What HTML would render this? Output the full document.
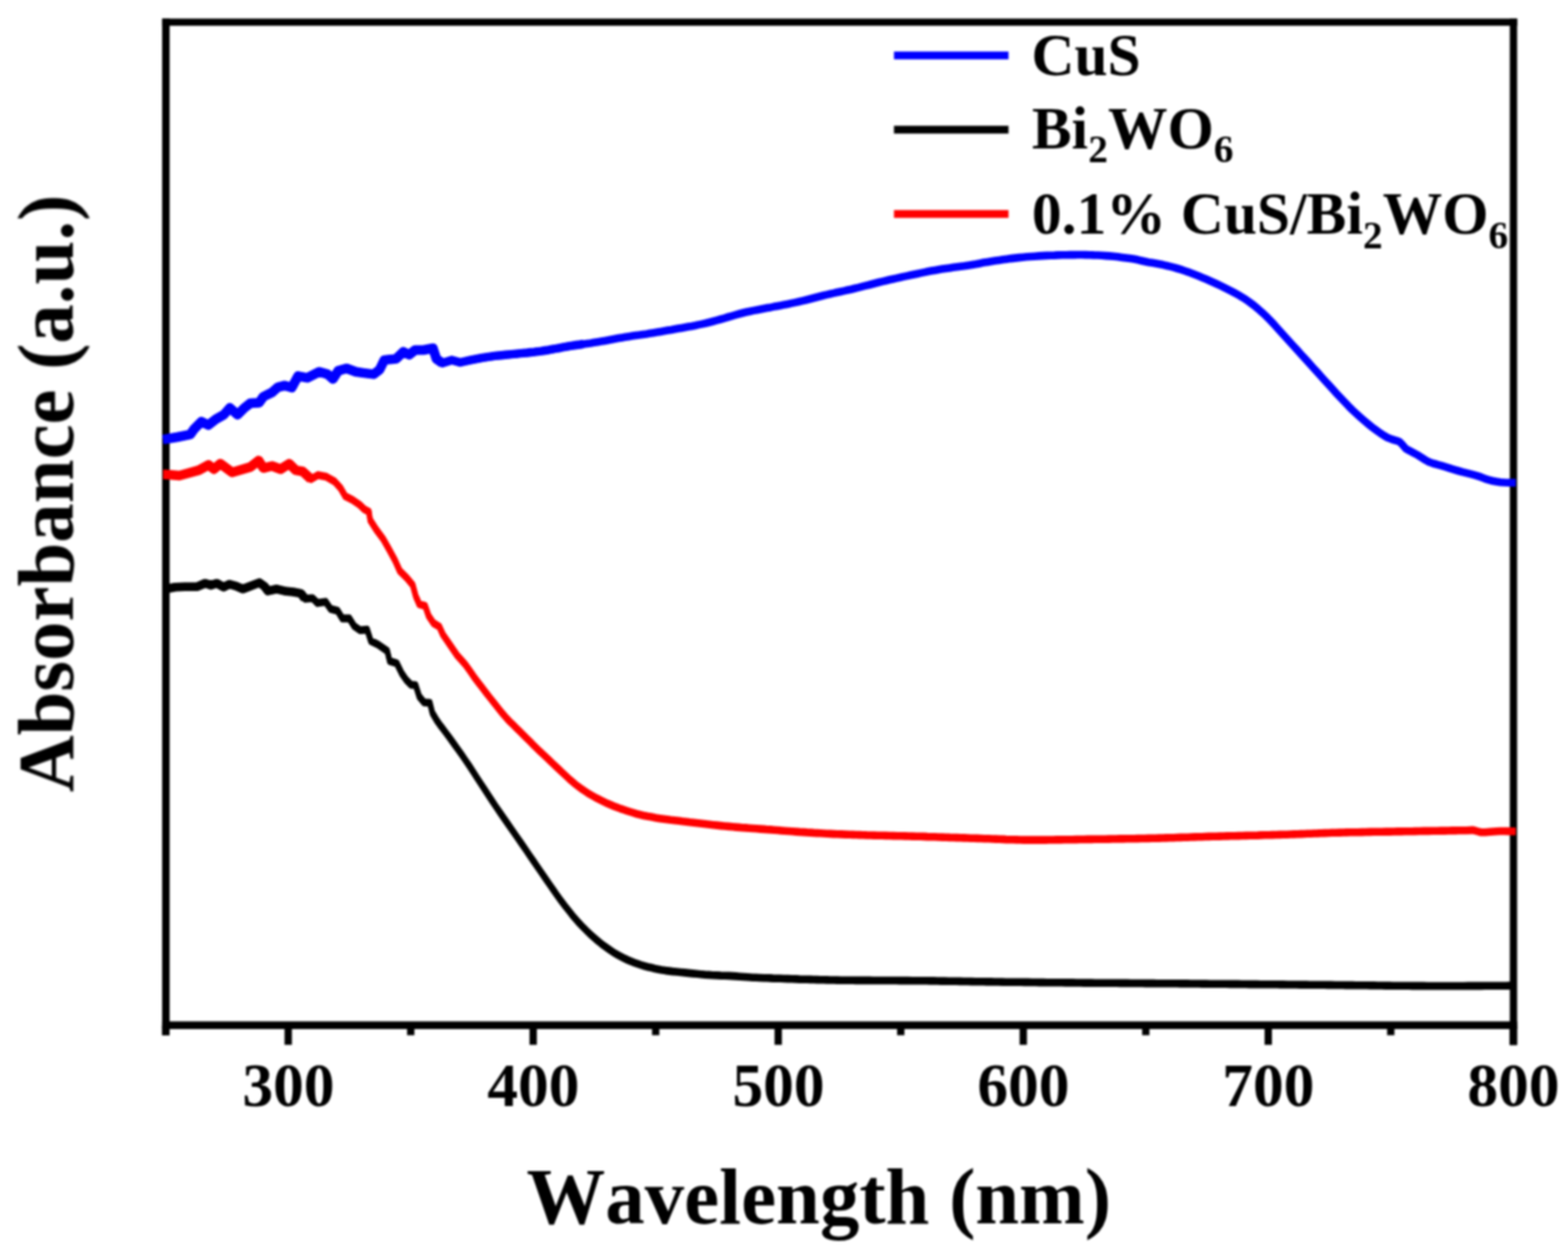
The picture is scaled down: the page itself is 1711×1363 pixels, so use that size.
<!DOCTYPE html>
<html>
<head>
<meta charset="utf-8">
<title>UV-vis absorbance</title>
<style>
html, body { margin: 0; padding: 0; background: #fff; }
body { width: 1711px; height: 1363px; overflow: hidden; }
svg { display: block; }
.soft { filter: blur(1px); }
text { font-family: "Liberation Serif", serif; font-weight: bold; fill: #000; font-kerning: none; }
</style>
</head>
<body>
<svg width="1711" height="1363" viewBox="0 0 1711 1363">
<rect x="0" y="0" width="1711" height="1363" fill="#fff"/>
<g class="soft">
<g fill="#000">
<rect x="176.9" y="20.3" width="8.2" height="1109.4"/>
<rect x="1647.5" y="20.3" width="8" height="1120.2"/>
<rect x="176.9" y="20.3" width="1478.6" height="7.8"/>
<rect x="176.9" y="1114.6" width="1478.6" height="8.4"/>
<rect x="310.5" y="1119" width="8" height="21.2"/>
<rect x="577.8" y="1119" width="8" height="21.2"/>
<rect x="845.2" y="1119" width="8" height="21.2"/>
<rect x="1112.6" y="1119" width="8" height="21.2"/>
<rect x="1379.9" y="1119" width="8" height="21.2"/>
<rect x="1647.3" y="1119" width="8" height="21.2"/>
<rect x="176.8" y="1119" width="8" height="10.7"/>
<rect x="444.2" y="1119" width="8" height="10.7"/>
<rect x="711.5" y="1119" width="8" height="10.7"/>
<rect x="978.9" y="1119" width="8" height="10.7"/>
<rect x="1246.3" y="1119" width="8" height="10.7"/>
<rect x="1513.6" y="1119" width="8" height="10.7"/>
</g>
<g fill="none" stroke-linejoin="round" stroke-linecap="butt">
<g stroke="#0000ff" stroke-width="7.4"><polyline transform="translate(0,-0.6)" points="178.0,479.6 179.4,479.4 193.5,477.0 207.6,474.2 212.3,467.7 219.8,460.1 227.3,463.9 235.7,457.3 244.2,452.6 250.8,445.1 259.2,452.6 266.7,445.1 273.3,440.0 282.7,439.5 287.4,432.9 296.8,428.2 303.3,422.6 310.8,420.7 318.4,423.0 325.2,410.4 335.5,412.3 348.4,405.8 357.4,408.4 363.3,413.6 369.1,404.6 378.1,402.0 388.4,405.8 397.5,407.1 407.8,408.4 414.3,403.3 419.4,392.9 432.3,391.6 440.1,383.9 446.5,387.1 453.0,382.0 462.0,382.0 472.4,380.0 476.2,391.6 482.7,396.2 493.0,392.9 502.1,395.5 513.7,392.9 526.6,390.4 540.0,388.4 547.2,387.7 551.2,387.3 555.6,386.9 560.5,386.4 563.8,386.1 567.4,385.7 571.2,385.3 575.1,385.0 579.1,384.5 583.1,384.1 587.1,383.6 591.0,383.1 594.8,382.5 598.6,381.9 602.4,381.2 606.2,380.5 610.1,379.8 613.9,379.0 617.7,378.3 621.5,377.7 625.3,377.1 629.1,376.5 633.0,376.0 636.8,375.4 640.6,374.9 644.5,374.4 648.3,373.8 652.1,373.2 655.9,372.6 659.7,371.9 663.5,371.2 667.4,370.5 671.2,369.8 675.0,369.1 678.8,368.4 682.6,367.8 686.4,367.2 690.2,366.6 694.0,366.0 697.9,365.5 701.7,364.9 705.5,364.4 709.3,363.8 713.1,363.2 716.9,362.6 720.7,361.9 724.5,361.3 728.4,360.6 732.2,360.0 736.0,359.3 739.8,358.6 743.6,357.9 747.4,357.2 751.1,356.5 754.8,355.9 758.5,355.2 762.2,354.4 766.1,353.6 770.0,352.8 774.1,351.8 777.9,350.8 781.9,349.7 786.0,348.5 790.2,347.3 794.4,346.0 798.6,344.8 802.7,343.6 806.7,342.5 810.5,341.5 814.6,340.5 818.5,339.7 822.4,338.9 826.1,338.2 829.8,337.5 833.5,336.8 837.2,336.1 841.0,335.4 844.8,334.6 848.6,333.9 852.4,333.2 856.2,332.4 860.1,331.7 863.9,330.9 867.7,330.1 871.5,329.3 875.3,328.4 879.1,327.5 883.0,326.5 886.8,325.5 890.6,324.5 894.5,323.5 898.3,322.5 902.1,321.6 905.9,320.7 909.7,319.9 913.5,319.0 917.4,318.2 921.2,317.4 925.0,316.5 928.8,315.7 932.6,314.8 936.4,313.9 940.2,312.9 944.0,311.9 947.9,311.0 951.7,310.0 955.5,309.0 959.3,308.0 963.1,307.1 966.9,306.2 970.7,305.3 974.5,304.5 978.4,303.6 982.2,302.8 986.0,301.9 989.8,301.1 993.6,300.3 997.4,299.5 1001.2,298.7 1005.0,297.9 1008.8,297.1 1012.6,296.3 1016.4,295.6 1020.2,294.9 1024.1,294.2 1028.0,293.6 1032.1,293.0 1036.2,292.4 1040.2,291.8 1044.3,291.3 1048.3,290.8 1052.1,290.3 1055.8,289.7 1060.4,288.9 1064.8,288.2 1069.1,287.4 1073.2,286.6 1077.4,285.9 1081.6,285.2 1085.9,284.5 1090.2,283.9 1094.5,283.3 1098.9,282.7 1103.2,282.1 1107.5,281.6 1111.8,281.1 1116.1,280.7 1120.4,280.3 1124.7,280.0 1129.0,279.7 1133.3,279.4 1137.6,279.1 1141.9,278.9 1146.2,278.7 1150.5,278.6 1154.8,278.4 1159.1,278.3 1163.4,278.2 1167.7,278.1 1172.0,278.1 1176.3,278.0 1180.6,278.0 1184.9,278.1 1189.2,278.2 1193.5,278.4 1197.8,278.5 1202.2,278.8 1206.5,279.1 1210.8,279.4 1215.2,279.8 1219.9,280.3 1224.5,280.9 1228.9,281.5 1233.0,282.1 1236.6,282.6 1241.8,283.6 1245.5,284.5 1250.0,285.5 1253.5,286.2 1257.3,286.8 1261.4,287.5 1265.4,288.3 1269.4,289.1 1273.3,290.0 1277.1,290.9 1281.0,291.9 1284.8,293.0 1288.7,294.2 1292.6,295.5 1296.5,296.8 1300.3,298.3 1304.2,299.8 1308.1,301.3 1312.0,302.9 1315.9,304.5 1319.7,306.2 1323.6,307.9 1327.5,309.7 1331.5,311.6 1335.5,313.6 1339.5,315.6 1343.4,317.6 1346.8,319.4 1351.6,322.0 1355.6,324.4 1359.7,327.0 1364.0,330.1 1368.4,333.4 1372.7,337.0 1377.0,340.8 1381.3,344.8 1385.6,349.1 1389.9,353.7 1394.2,358.5 1398.5,363.3 1402.8,368.0 1407.1,372.8 1411.4,377.5 1415.7,382.2 1420.0,387.0 1424.3,391.7 1428.6,396.4 1432.9,401.2 1437.2,405.9 1441.5,410.7 1445.8,415.5 1450.1,420.2 1454.4,424.9 1458.6,429.6 1462.9,434.2 1467.2,438.7 1471.5,443.2 1475.8,447.5 1480.1,451.5 1484.4,455.4 1488.7,459.1 1493.0,462.7 1497.3,466.2 1501.6,469.4 1505.9,472.5 1510.3,475.4 1514.6,477.8 1519.1,479.5 1523.7,480.8 1527.5,482.3 1530.7,485.7 1533.9,489.4 1537.7,491.7 1542.3,494.1 1546.8,496.5 1551.1,499.2 1555.4,502.0 1559.7,504.3 1563.8,505.8 1567.9,506.8 1572.7,508.1 1576.2,509.2 1580.0,510.3 1584.0,511.6 1588.0,512.8 1592.0,514.0 1596.0,515.1 1600.1,516.1 1604.1,517.1 1607.9,518.1 1611.4,519.1 1616.2,520.7 1620.2,522.3 1624.3,523.6 1628.5,524.7 1632.6,525.5 1637.2,526.2 1641.5,526.5 1646.4,526.7 1650.9,526.8 1654.0,526.9"/><polyline transform="translate(0,0.6)" points="178.0,479.6 179.4,479.4 193.5,477.0 207.6,474.2 212.3,467.7 219.8,460.1 227.3,463.9 235.7,457.3 244.2,452.6 250.8,445.1 259.2,452.6 266.7,445.1 273.3,440.0 282.7,439.5 287.4,432.9 296.8,428.2 303.3,422.6 310.8,420.7 318.4,423.0 325.2,410.4 335.5,412.3 348.4,405.8 357.4,408.4 363.3,413.6 369.1,404.6 378.1,402.0 388.4,405.8 397.5,407.1 407.8,408.4 414.3,403.3 419.4,392.9 432.3,391.6 440.1,383.9 446.5,387.1 453.0,382.0 462.0,382.0 472.4,380.0 476.2,391.6 482.7,396.2 493.0,392.9 502.1,395.5 513.7,392.9 526.6,390.4 540.0,388.4 547.2,387.7 551.2,387.3 555.6,386.9 560.5,386.4 563.8,386.1 567.4,385.7 571.2,385.3 575.1,385.0 579.1,384.5 583.1,384.1 587.1,383.6 591.0,383.1 594.8,382.5 598.6,381.9 602.4,381.2 606.2,380.5 610.1,379.8 613.9,379.0 617.7,378.3 621.5,377.7 625.3,377.1 629.1,376.5 633.0,376.0 636.8,375.4 640.6,374.9 644.5,374.4 648.3,373.8 652.1,373.2 655.9,372.6 659.7,371.9 663.5,371.2 667.4,370.5 671.2,369.8 675.0,369.1 678.8,368.4 682.6,367.8 686.4,367.2 690.2,366.6 694.0,366.0 697.9,365.5 701.7,364.9 705.5,364.4 709.3,363.8 713.1,363.2 716.9,362.6 720.7,361.9 724.5,361.3 728.4,360.6 732.2,360.0 736.0,359.3 739.8,358.6 743.6,357.9 747.4,357.2 751.1,356.5 754.8,355.9 758.5,355.2 762.2,354.4 766.1,353.6 770.0,352.8 774.1,351.8 777.9,350.8 781.9,349.7 786.0,348.5 790.2,347.3 794.4,346.0 798.6,344.8 802.7,343.6 806.7,342.5 810.5,341.5 814.6,340.5 818.5,339.7 822.4,338.9 826.1,338.2 829.8,337.5 833.5,336.8 837.2,336.1 841.0,335.4 844.8,334.6 848.6,333.9 852.4,333.2 856.2,332.4 860.1,331.7 863.9,330.9 867.7,330.1 871.5,329.3 875.3,328.4 879.1,327.5 883.0,326.5 886.8,325.5 890.6,324.5 894.5,323.5 898.3,322.5 902.1,321.6 905.9,320.7 909.7,319.9 913.5,319.0 917.4,318.2 921.2,317.4 925.0,316.5 928.8,315.7 932.6,314.8 936.4,313.9 940.2,312.9 944.0,311.9 947.9,311.0 951.7,310.0 955.5,309.0 959.3,308.0 963.1,307.1 966.9,306.2 970.7,305.3 974.5,304.5 978.4,303.6 982.2,302.8 986.0,301.9 989.8,301.1 993.6,300.3 997.4,299.5 1001.2,298.7 1005.0,297.9 1008.8,297.1 1012.6,296.3 1016.4,295.6 1020.2,294.9 1024.1,294.2 1028.0,293.6 1032.1,293.0 1036.2,292.4 1040.2,291.8 1044.3,291.3 1048.3,290.8 1052.1,290.3 1055.8,289.7 1060.4,288.9 1064.8,288.2 1069.1,287.4 1073.2,286.6 1077.4,285.9 1081.6,285.2 1085.9,284.5 1090.2,283.9 1094.5,283.3 1098.9,282.7 1103.2,282.1 1107.5,281.6 1111.8,281.1 1116.1,280.7 1120.4,280.3 1124.7,280.0 1129.0,279.7 1133.3,279.4 1137.6,279.1 1141.9,278.9 1146.2,278.7 1150.5,278.6 1154.8,278.4 1159.1,278.3 1163.4,278.2 1167.7,278.1 1172.0,278.1 1176.3,278.0 1180.6,278.0 1184.9,278.1 1189.2,278.2 1193.5,278.4 1197.8,278.5 1202.2,278.8 1206.5,279.1 1210.8,279.4 1215.2,279.8 1219.9,280.3 1224.5,280.9 1228.9,281.5 1233.0,282.1 1236.6,282.6 1241.8,283.6 1245.5,284.5 1250.0,285.5 1253.5,286.2 1257.3,286.8 1261.4,287.5 1265.4,288.3 1269.4,289.1 1273.3,290.0 1277.1,290.9 1281.0,291.9 1284.8,293.0 1288.7,294.2 1292.6,295.5 1296.5,296.8 1300.3,298.3 1304.2,299.8 1308.1,301.3 1312.0,302.9 1315.9,304.5 1319.7,306.2 1323.6,307.9 1327.5,309.7 1331.5,311.6 1335.5,313.6 1339.5,315.6 1343.4,317.6 1346.8,319.4 1351.6,322.0 1355.6,324.4 1359.7,327.0 1364.0,330.1 1368.4,333.4 1372.7,337.0 1377.0,340.8 1381.3,344.8 1385.6,349.1 1389.9,353.7 1394.2,358.5 1398.5,363.3 1402.8,368.0 1407.1,372.8 1411.4,377.5 1415.7,382.2 1420.0,387.0 1424.3,391.7 1428.6,396.4 1432.9,401.2 1437.2,405.9 1441.5,410.7 1445.8,415.5 1450.1,420.2 1454.4,424.9 1458.6,429.6 1462.9,434.2 1467.2,438.7 1471.5,443.2 1475.8,447.5 1480.1,451.5 1484.4,455.4 1488.7,459.1 1493.0,462.7 1497.3,466.2 1501.6,469.4 1505.9,472.5 1510.3,475.4 1514.6,477.8 1519.1,479.5 1523.7,480.8 1527.5,482.3 1530.7,485.7 1533.9,489.4 1537.7,491.7 1542.3,494.1 1546.8,496.5 1551.1,499.2 1555.4,502.0 1559.7,504.3 1563.8,505.8 1567.9,506.8 1572.7,508.1 1576.2,509.2 1580.0,510.3 1584.0,511.6 1588.0,512.8 1592.0,514.0 1596.0,515.1 1600.1,516.1 1604.1,517.1 1607.9,518.1 1611.4,519.1 1616.2,520.7 1620.2,522.3 1624.3,523.6 1628.5,524.7 1632.6,525.5 1637.2,526.2 1641.5,526.5 1646.4,526.7 1650.9,526.8 1654.0,526.9"/>
<polyline stroke-width="9.4" points="178.0,479.6 179.4,479.4 193.5,477.0 207.6,474.2 212.3,467.7 219.8,460.1 227.3,463.9 235.7,457.3 244.2,452.6 250.8,445.1 259.2,452.6 266.7,445.1 273.3,440.0 282.7,439.5 287.4,432.9 296.8,428.2 303.3,422.6 310.8,420.7 318.4,423.0 325.2,410.4 335.5,412.3 348.4,405.8 357.4,408.4 363.3,413.6 369.1,404.6 378.1,402.0 388.4,405.8 397.5,407.1 407.8,408.4 414.3,403.3 419.4,392.9 432.3,391.6 440.1,383.9 446.5,387.1 453.0,382.0 462.0,382.0 472.4,380.0 476.2,391.6 482.7,396.2 493.0,392.9 502.1,395.5 513.7,392.9 526.6,390.4 540.0,388.4 547.2,387.7 551.2,387.3 555.6,386.9 560.5,386.4 563.8,386.1 567.4,385.7 571.2,385.3 575.1,385.0 579.1,384.5 583.1,384.1 587.1,383.6 591.0,383.1 594.8,382.5 598.6,381.9 602.4,381.2 606.2,380.5 610.1,379.8 613.9,379.0 617.7,378.3 621.5,377.7 625.3,377.1 629.1,376.5 633.0,376.0 636.8,375.4"/>
<polyline stroke-width="10.5" points="178.0,479.6 179.4,479.4 193.5,477.0 207.6,474.2 212.3,467.7 219.8,460.1 227.3,463.9 235.7,457.3 244.2,452.6 250.8,445.1 259.2,452.6 266.7,445.1 273.3,440.0 282.7,439.5 287.4,432.9 296.8,428.2 303.3,422.6 310.8,420.7 318.4,423.0 325.2,410.4 335.5,412.3 348.4,405.8 357.4,408.4 363.3,413.6 369.1,404.6 378.1,402.0 388.4,405.8 397.5,407.1 407.8,408.4 414.3,403.3 419.4,392.9 432.3,391.6 440.1,383.9 446.5,387.1 453.0,382.0 462.0,382.0 472.4,380.0 476.2,391.6 482.7,396.2"/></g>
<g stroke="#ff0000" stroke-width="5.6"><polyline points="178.0,517.8 180.6,517.8 195.8,519.0 217.0,513.1 227.5,507.3 233.4,512.0 240.4,506.1 253.3,515.5 273.3,509.6 282.2,502.6 287.4,510.8 296.8,508.5 306.2,512.0 315.5,506.1 322.6,513.1 330.3,514.5 339.4,522.9 347.1,518.4 356.2,520.3 365.2,525.5 371.6,532.6 376.8,541.6 384.6,545.5 392.3,550.7 397.5,555.8 402.6,558.4 403.9,567.5 410.4,577.8 418.1,588.1 424.6,599.7 431.0,611.4 436.2,623.0 444.0,630.7 450.4,638.5 453.6,650.3 457.5,659.4 464.0,661.3 467.8,672.3 473.0,680.0 479.4,683.9 483.3,692.5 491.1,703.8 498.8,715.1 503.3,720.1 507.9,725.3 512.4,731.6 516.9,738.2 521.4,744.2 525.9,750.0 530.4,756.0 535.0,761.9 539.5,767.6 544.0,773.2 548.6,778.9 553.0,784.0 556.3,787.5 560.0,791.0 563.4,794.4 567.3,798.2 571.5,802.4 574.8,805.8 578.4,809.3 582.0,813.0 585.6,816.5 589.1,819.9 592.7,823.2 596.2,826.6 599.7,829.9 603.2,833.2 606.8,836.6 610.3,839.9 613.8,843.2 617.3,846.5 620.8,849.8 624.4,852.9 627.9,855.9 631.4,858.6 635.0,861.2 638.5,863.5 642.0,865.8 645.5,867.9 649.1,869.9 652.6,871.7 656.1,873.5 659.6,875.2 663.1,876.9 666.6,878.4 670.1,879.9 673.6,881.2 677.1,882.5 680.7,883.7 684.2,884.8 687.5,885.9 690.8,886.9 694.2,888.0 698.3,889.0 702.2,889.9 706.5,890.8 711.0,891.6 715.6,892.5 720.0,893.2 724.1,893.8 728.0,894.3 731.9,894.8 736.1,895.2 740.8,895.8 744.5,896.3 748.5,896.7 752.8,897.3 757.1,897.8 761.5,898.3 765.8,898.8 770.1,899.3 774.3,899.8 778.3,900.2 782.4,900.6 786.6,901.1 790.7,901.5 795.0,901.9 799.5,902.3 803.0,902.6 806.6,902.9 810.1,903.2 813.7,903.4 817.4,903.7 821.3,904.0 825.3,904.3 829.4,904.6 833.8,904.9 837.3,905.2 840.9,905.4 844.6,905.7 848.4,906.0 852.4,906.4 856.4,906.7 860.4,907.0 864.5,907.3 868.5,907.6 872.6,907.9 876.6,908.1 880.5,908.4 884.3,908.6 888.0,908.9 891.6,909.1 895.1,909.3 898.7,909.5 902.3,909.7 906.0,909.9 909.8,910.1 913.8,910.3 918.0,910.4 922.5,910.6 927.3,910.8 930.7,910.9 934.3,911.0 937.9,911.1 941.8,911.2 945.7,911.4 949.7,911.5 953.8,911.6 958.0,911.7 962.2,911.8 966.5,911.9 970.7,912.0 975.0,912.1 979.3,912.2 983.5,912.3 987.7,912.4 991.9,912.5 996.0,912.6 1000.0,912.7 1004.0,912.8 1008.0,912.9 1012.0,913.1 1016.1,913.2 1020.2,913.3 1024.2,913.5 1028.3,913.6 1032.3,913.7 1036.3,913.9 1040.3,914.0 1044.2,914.1 1048.1,914.3 1052.0,914.4 1055.7,914.5 1059.4,914.7 1063.0,914.8 1066.6,914.9 1070.0,915.0 1074.5,915.2 1078.8,915.3 1082.9,915.5 1086.8,915.6 1090.6,915.8 1094.3,915.9 1097.9,916.1 1101.6,916.2 1105.3,916.3 1109.1,916.4 1113.1,916.5 1117.2,916.6 1121.6,916.6 1125.3,916.6 1129.1,916.6 1132.9,916.6 1136.9,916.6 1140.9,916.6 1144.9,916.5 1149.0,916.5 1153.1,916.4 1157.3,916.4 1161.5,916.3 1165.8,916.2 1170.0,916.2 1174.3,916.1 1178.5,916.0 1182.8,916.0 1187.0,915.9 1190.8,915.9 1194.6,915.8 1198.4,915.8 1202.2,915.7 1206.1,915.7 1210.0,915.6 1213.9,915.5 1217.8,915.5 1221.7,915.4 1225.6,915.4 1229.6,915.3 1233.5,915.3 1237.4,915.2 1241.4,915.1 1245.3,915.0 1249.2,915.0 1253.1,914.9 1257.0,914.8 1260.9,914.7 1264.8,914.6 1268.6,914.5 1272.5,914.4 1276.4,914.3 1280.2,914.2 1284.1,914.0 1287.9,913.9 1291.8,913.8 1295.7,913.7 1299.6,913.5 1303.4,913.4 1307.3,913.3 1311.2,913.2 1315.2,913.0 1319.1,912.9 1323.0,912.8 1327.0,912.7 1331.0,912.6 1335.0,912.5 1339.1,912.4 1343.2,912.3 1347.4,912.2 1351.5,912.1 1355.7,912.0 1359.8,911.9 1364.0,911.8 1368.1,911.7 1372.3,911.6 1376.4,911.4 1380.4,911.3 1384.5,911.2 1388.4,911.1 1392.4,911.0 1396.2,910.9 1400.0,910.8 1404.1,910.7 1408.1,910.5 1412.0,910.4 1415.8,910.3 1419.5,910.1 1423.2,910.0 1426.8,909.8 1430.4,909.7 1434.1,909.5 1437.8,909.4 1441.5,909.2 1445.4,909.1 1449.3,909.0 1453.4,908.8 1457.6,908.7 1462.0,908.6 1465.7,908.5 1469.5,908.4 1473.5,908.3 1477.5,908.2 1481.7,908.2 1485.9,908.1 1490.3,908.0 1494.6,907.9 1499.0,907.8 1503.4,907.8 1507.8,907.7 1512.1,907.6 1516.4,907.6 1520.7,907.5 1524.9,907.4 1528.9,907.4 1532.9,907.3 1536.8,907.2 1540.5,907.2 1544.0,907.1 1548.9,907.0 1553.8,906.9 1558.6,906.9 1563.3,906.8 1567.9,906.7 1572.3,906.6 1576.6,906.6 1580.7,906.5 1584.6,906.4 1588.3,906.4 1591.6,906.3 1594.7,906.3 1597.5,906.2 1600.0,906.2 1607.0,905.9 1608.0,906.0 1611.9,907.1 1616.0,908.2 1620.8,908.2 1626.0,907.8 1629.4,907.5 1632.9,907.2 1637.0,907.0 1641.2,907.0 1646.2,907.1 1650.8,907.2 1654.0,907.3"/><polyline transform="translate(0,-1.5)" points="178.0,517.8 180.6,517.8 195.8,519.0 217.0,513.1 227.5,507.3 233.4,512.0 240.4,506.1 253.3,515.5 273.3,509.6 282.2,502.6 287.4,510.8 296.8,508.5 306.2,512.0 315.5,506.1 322.6,513.1 330.3,514.5 339.4,522.9 347.1,518.4 356.2,520.3 365.2,525.5 371.6,532.6 376.8,541.6 384.6,545.5 392.3,550.7 397.5,555.8 402.6,558.4 403.9,567.5 410.4,577.8 418.1,588.1 424.6,599.7 431.0,611.4 436.2,623.0 444.0,630.7 450.4,638.5 453.6,650.3 457.5,659.4 464.0,661.3 467.8,672.3 473.0,680.0 479.4,683.9 483.3,692.5 491.1,703.8 498.8,715.1 503.3,720.1 507.9,725.3 512.4,731.6 516.9,738.2 521.4,744.2 525.9,750.0 530.4,756.0 535.0,761.9 539.5,767.6 544.0,773.2 548.6,778.9 553.0,784.0 556.3,787.5 560.0,791.0 563.4,794.4 567.3,798.2 571.5,802.4 574.8,805.8 578.4,809.3 582.0,813.0 585.6,816.5 589.1,819.9 592.7,823.2 596.2,826.6 599.7,829.9 603.2,833.2 606.8,836.6 610.3,839.9 613.8,843.2 617.3,846.5 620.8,849.8 624.4,852.9 627.9,855.9 631.4,858.6 635.0,861.2 638.5,863.5 642.0,865.8 645.5,867.9 649.1,869.9 652.6,871.7 656.1,873.5 659.6,875.2 663.1,876.9 666.6,878.4 670.1,879.9 673.6,881.2 677.1,882.5 680.7,883.7 684.2,884.8 687.5,885.9 690.8,886.9 694.2,888.0 698.3,889.0 702.2,889.9 706.5,890.8 711.0,891.6 715.6,892.5 720.0,893.2 724.1,893.8 728.0,894.3 731.9,894.8 736.1,895.2 740.8,895.8 744.5,896.3 748.5,896.7 752.8,897.3 757.1,897.8 761.5,898.3 765.8,898.8 770.1,899.3 774.3,899.8 778.3,900.2 782.4,900.6 786.6,901.1 790.7,901.5 795.0,901.9 799.5,902.3 803.0,902.6 806.6,902.9 810.1,903.2 813.7,903.4 817.4,903.7 821.3,904.0 825.3,904.3 829.4,904.6 833.8,904.9 837.3,905.2 840.9,905.4 844.6,905.7 848.4,906.0 852.4,906.4 856.4,906.7 860.4,907.0 864.5,907.3 868.5,907.6 872.6,907.9 876.6,908.1 880.5,908.4 884.3,908.6 888.0,908.9 891.6,909.1 895.1,909.3 898.7,909.5 902.3,909.7 906.0,909.9 909.8,910.1 913.8,910.3 918.0,910.4 922.5,910.6 927.3,910.8 930.7,910.9 934.3,911.0 937.9,911.1 941.8,911.2 945.7,911.4 949.7,911.5 953.8,911.6 958.0,911.7 962.2,911.8 966.5,911.9 970.7,912.0 975.0,912.1 979.3,912.2 983.5,912.3 987.7,912.4 991.9,912.5 996.0,912.6 1000.0,912.7 1004.0,912.8 1008.0,912.9 1012.0,913.1 1016.1,913.2 1020.2,913.3 1024.2,913.5 1028.3,913.6 1032.3,913.7 1036.3,913.9 1040.3,914.0 1044.2,914.1 1048.1,914.3 1052.0,914.4 1055.7,914.5 1059.4,914.7 1063.0,914.8 1066.6,914.9 1070.0,915.0 1074.5,915.2 1078.8,915.3 1082.9,915.5 1086.8,915.6 1090.6,915.8 1094.3,915.9 1097.9,916.1 1101.6,916.2 1105.3,916.3 1109.1,916.4 1113.1,916.5 1117.2,916.6 1121.6,916.6 1125.3,916.6 1129.1,916.6 1132.9,916.6 1136.9,916.6 1140.9,916.6 1144.9,916.5 1149.0,916.5 1153.1,916.4 1157.3,916.4 1161.5,916.3 1165.8,916.2 1170.0,916.2 1174.3,916.1 1178.5,916.0 1182.8,916.0 1187.0,915.9 1190.8,915.9 1194.6,915.8 1198.4,915.8 1202.2,915.7 1206.1,915.7 1210.0,915.6 1213.9,915.5 1217.8,915.5 1221.7,915.4 1225.6,915.4 1229.6,915.3 1233.5,915.3 1237.4,915.2 1241.4,915.1 1245.3,915.0 1249.2,915.0 1253.1,914.9 1257.0,914.8 1260.9,914.7 1264.8,914.6 1268.6,914.5 1272.5,914.4 1276.4,914.3 1280.2,914.2 1284.1,914.0 1287.9,913.9 1291.8,913.8 1295.7,913.7 1299.6,913.5 1303.4,913.4 1307.3,913.3 1311.2,913.2 1315.2,913.0 1319.1,912.9 1323.0,912.8 1327.0,912.7 1331.0,912.6 1335.0,912.5 1339.1,912.4 1343.2,912.3 1347.4,912.2 1351.5,912.1 1355.7,912.0 1359.8,911.9 1364.0,911.8 1368.1,911.7 1372.3,911.6 1376.4,911.4 1380.4,911.3 1384.5,911.2 1388.4,911.1 1392.4,911.0 1396.2,910.9 1400.0,910.8 1404.1,910.7 1408.1,910.5 1412.0,910.4 1415.8,910.3 1419.5,910.1 1423.2,910.0 1426.8,909.8 1430.4,909.7 1434.1,909.5 1437.8,909.4 1441.5,909.2 1445.4,909.1 1449.3,909.0 1453.4,908.8 1457.6,908.7 1462.0,908.6 1465.7,908.5 1469.5,908.4 1473.5,908.3 1477.5,908.2 1481.7,908.2 1485.9,908.1 1490.3,908.0 1494.6,907.9 1499.0,907.8 1503.4,907.8 1507.8,907.7 1512.1,907.6 1516.4,907.6 1520.7,907.5 1524.9,907.4 1528.9,907.4 1532.9,907.3 1536.8,907.2 1540.5,907.2 1544.0,907.1 1548.9,907.0 1553.8,906.9 1558.6,906.9 1563.3,906.8 1567.9,906.7 1572.3,906.6 1576.6,906.6 1580.7,906.5 1584.6,906.4 1588.3,906.4 1591.6,906.3 1594.7,906.3 1597.5,906.2 1600.0,906.2 1607.0,905.9 1608.0,906.0 1611.9,907.1 1616.0,908.2 1620.8,908.2 1626.0,907.8 1629.4,907.5 1632.9,907.2 1637.0,907.0 1641.2,907.0 1646.2,907.1 1650.8,907.2 1654.0,907.3"/><polyline transform="translate(0,1.5)" points="178.0,517.8 180.6,517.8 195.8,519.0 217.0,513.1 227.5,507.3 233.4,512.0 240.4,506.1 253.3,515.5 273.3,509.6 282.2,502.6 287.4,510.8 296.8,508.5 306.2,512.0 315.5,506.1 322.6,513.1 330.3,514.5 339.4,522.9 347.1,518.4 356.2,520.3 365.2,525.5 371.6,532.6 376.8,541.6 384.6,545.5 392.3,550.7 397.5,555.8 402.6,558.4 403.9,567.5 410.4,577.8 418.1,588.1 424.6,599.7 431.0,611.4 436.2,623.0 444.0,630.7 450.4,638.5 453.6,650.3 457.5,659.4 464.0,661.3 467.8,672.3 473.0,680.0 479.4,683.9 483.3,692.5 491.1,703.8 498.8,715.1 503.3,720.1 507.9,725.3 512.4,731.6 516.9,738.2 521.4,744.2 525.9,750.0 530.4,756.0 535.0,761.9 539.5,767.6 544.0,773.2 548.6,778.9 553.0,784.0 556.3,787.5 560.0,791.0 563.4,794.4 567.3,798.2 571.5,802.4 574.8,805.8 578.4,809.3 582.0,813.0 585.6,816.5 589.1,819.9 592.7,823.2 596.2,826.6 599.7,829.9 603.2,833.2 606.8,836.6 610.3,839.9 613.8,843.2 617.3,846.5 620.8,849.8 624.4,852.9 627.9,855.9 631.4,858.6 635.0,861.2 638.5,863.5 642.0,865.8 645.5,867.9 649.1,869.9 652.6,871.7 656.1,873.5 659.6,875.2 663.1,876.9 666.6,878.4 670.1,879.9 673.6,881.2 677.1,882.5 680.7,883.7 684.2,884.8 687.5,885.9 690.8,886.9 694.2,888.0 698.3,889.0 702.2,889.9 706.5,890.8 711.0,891.6 715.6,892.5 720.0,893.2 724.1,893.8 728.0,894.3 731.9,894.8 736.1,895.2 740.8,895.8 744.5,896.3 748.5,896.7 752.8,897.3 757.1,897.8 761.5,898.3 765.8,898.8 770.1,899.3 774.3,899.8 778.3,900.2 782.4,900.6 786.6,901.1 790.7,901.5 795.0,901.9 799.5,902.3 803.0,902.6 806.6,902.9 810.1,903.2 813.7,903.4 817.4,903.7 821.3,904.0 825.3,904.3 829.4,904.6 833.8,904.9 837.3,905.2 840.9,905.4 844.6,905.7 848.4,906.0 852.4,906.4 856.4,906.7 860.4,907.0 864.5,907.3 868.5,907.6 872.6,907.9 876.6,908.1 880.5,908.4 884.3,908.6 888.0,908.9 891.6,909.1 895.1,909.3 898.7,909.5 902.3,909.7 906.0,909.9 909.8,910.1 913.8,910.3 918.0,910.4 922.5,910.6 927.3,910.8 930.7,910.9 934.3,911.0 937.9,911.1 941.8,911.2 945.7,911.4 949.7,911.5 953.8,911.6 958.0,911.7 962.2,911.8 966.5,911.9 970.7,912.0 975.0,912.1 979.3,912.2 983.5,912.3 987.7,912.4 991.9,912.5 996.0,912.6 1000.0,912.7 1004.0,912.8 1008.0,912.9 1012.0,913.1 1016.1,913.2 1020.2,913.3 1024.2,913.5 1028.3,913.6 1032.3,913.7 1036.3,913.9 1040.3,914.0 1044.2,914.1 1048.1,914.3 1052.0,914.4 1055.7,914.5 1059.4,914.7 1063.0,914.8 1066.6,914.9 1070.0,915.0 1074.5,915.2 1078.8,915.3 1082.9,915.5 1086.8,915.6 1090.6,915.8 1094.3,915.9 1097.9,916.1 1101.6,916.2 1105.3,916.3 1109.1,916.4 1113.1,916.5 1117.2,916.6 1121.6,916.6 1125.3,916.6 1129.1,916.6 1132.9,916.6 1136.9,916.6 1140.9,916.6 1144.9,916.5 1149.0,916.5 1153.1,916.4 1157.3,916.4 1161.5,916.3 1165.8,916.2 1170.0,916.2 1174.3,916.1 1178.5,916.0 1182.8,916.0 1187.0,915.9 1190.8,915.9 1194.6,915.8 1198.4,915.8 1202.2,915.7 1206.1,915.7 1210.0,915.6 1213.9,915.5 1217.8,915.5 1221.7,915.4 1225.6,915.4 1229.6,915.3 1233.5,915.3 1237.4,915.2 1241.4,915.1 1245.3,915.0 1249.2,915.0 1253.1,914.9 1257.0,914.8 1260.9,914.7 1264.8,914.6 1268.6,914.5 1272.5,914.4 1276.4,914.3 1280.2,914.2 1284.1,914.0 1287.9,913.9 1291.8,913.8 1295.7,913.7 1299.6,913.5 1303.4,913.4 1307.3,913.3 1311.2,913.2 1315.2,913.0 1319.1,912.9 1323.0,912.8 1327.0,912.7 1331.0,912.6 1335.0,912.5 1339.1,912.4 1343.2,912.3 1347.4,912.2 1351.5,912.1 1355.7,912.0 1359.8,911.9 1364.0,911.8 1368.1,911.7 1372.3,911.6 1376.4,911.4 1380.4,911.3 1384.5,911.2 1388.4,911.1 1392.4,911.0 1396.2,910.9 1400.0,910.8 1404.1,910.7 1408.1,910.5 1412.0,910.4 1415.8,910.3 1419.5,910.1 1423.2,910.0 1426.8,909.8 1430.4,909.7 1434.1,909.5 1437.8,909.4 1441.5,909.2 1445.4,909.1 1449.3,909.0 1453.4,908.8 1457.6,908.7 1462.0,908.6 1465.7,908.5 1469.5,908.4 1473.5,908.3 1477.5,908.2 1481.7,908.2 1485.9,908.1 1490.3,908.0 1494.6,907.9 1499.0,907.8 1503.4,907.8 1507.8,907.7 1512.1,907.6 1516.4,907.6 1520.7,907.5 1524.9,907.4 1528.9,907.4 1532.9,907.3 1536.8,907.2 1540.5,907.2 1544.0,907.1 1548.9,907.0 1553.8,906.9 1558.6,906.9 1563.3,906.8 1567.9,906.7 1572.3,906.6 1576.6,906.6 1580.7,906.5 1584.6,906.4 1588.3,906.4 1591.6,906.3 1594.7,906.3 1597.5,906.2 1600.0,906.2 1607.0,905.9 1608.0,906.0 1611.9,907.1 1616.0,908.2 1620.8,908.2 1626.0,907.8 1629.4,907.5 1632.9,907.2 1637.0,907.0 1641.2,907.0 1646.2,907.1 1650.8,907.2 1654.0,907.3"/>
<polyline stroke-width="10.5" points="178.0,517.8 180.6,517.8 195.8,519.0 217.0,513.1 227.5,507.3 233.4,512.0 240.4,506.1 253.3,515.5 273.3,509.6 282.2,502.6 287.4,510.8 296.8,508.5 306.2,512.0 315.5,506.1 322.6,513.1 330.3,514.5 339.4,522.9"/></g>
<g stroke="#000000" stroke-width="5.4"><polyline points="178.0,642.8 180.6,642.8 191.1,640.7 201.7,640.2 215.4,640.2 223.9,636.5 230.2,638.6 236.5,636.5 243.9,640.7 250.3,637.5 257.7,639.6 265.1,642.8 273.5,639.6 283.0,635.9 288.3,639.6 292.5,644.9 302.0,642.8 310.5,644.9 320.0,646.0 328.4,647.6 332.7,653.4 341.1,652.8 346.5,658.1 355.5,656.8 360.7,664.5 368.4,666.5 373.6,674.9 381.3,674.9 386.5,683.3 392.9,687.8 400.7,687.1 404.6,699.4 412.3,703.3 422.6,710.4 425.2,721.3 433.0,723.9 438.1,734.3 443.3,742.0 448.5,747.2 453.6,747.8 457.5,760.1 462.7,766.5 469.1,767.0 471.8,778.0 476.8,786.5 479.6,790.4 483.1,795.0 486.9,800.1 490.9,805.5 495.0,811.2 499.4,817.4 503.9,823.7 508.2,830.0 512.4,836.2 516.5,842.5 520.5,848.7 524.6,855.0 528.8,861.4 533.0,867.8 537.1,874.1 541.0,880.0 545.8,887.0 550.3,893.5 554.8,900.0 559.4,906.7 564.1,913.3 568.7,920.0 573.3,926.7 577.8,933.3 582.4,940.0 586.9,946.6 591.4,953.2 596.1,960.0 600.0,965.6 604.1,971.5 608.0,977.1 611.5,982.0 616.6,988.8 621.0,994.3 625.2,999.6 630.0,1005.2 633.3,1008.7 637.0,1012.6 640.9,1016.5 644.7,1020.1 648.4,1023.4 652.0,1026.5 655.6,1029.4 659.3,1032.2 663.0,1034.9 666.6,1037.4 670.3,1039.8 674.0,1042.0 677.7,1044.0 681.4,1045.9 685.0,1047.6 688.7,1049.2 692.4,1050.6 696.1,1051.9 699.7,1053.1 703.4,1054.2 707.1,1055.2 710.9,1056.1 714.5,1057.0 718.0,1057.7 722.2,1058.5 726.0,1059.1 730.0,1059.6 734.0,1060.1 738.1,1060.5 742.8,1061.0 746.9,1061.4 751.3,1061.9 755.9,1062.4 760.4,1062.8 764.8,1063.2 769.2,1063.6 773.6,1063.9 778.0,1064.2 782.3,1064.4 786.7,1064.6 791.0,1064.7 795.6,1064.9 799.4,1065.1 803.4,1065.4 807.5,1065.7 811.5,1066.0 815.4,1066.3 818.7,1066.5 821.5,1066.7 824.5,1066.8 828.3,1067.0 833.8,1067.2 836.7,1067.3 839.9,1067.4 843.5,1067.6 847.3,1067.7 851.2,1067.8 855.4,1068.0 859.6,1068.1 863.9,1068.3 868.2,1068.4 872.4,1068.6 876.5,1068.7 880.5,1068.8 884.3,1068.9 888.0,1069.0 891.6,1069.1 895.1,1069.2 898.7,1069.3 902.3,1069.4 906.0,1069.5 909.8,1069.5 913.8,1069.6 918.0,1069.7 922.5,1069.7 927.3,1069.8 930.7,1069.8 934.1,1069.9 937.7,1069.9 941.3,1069.9 945.0,1069.9 948.8,1069.9 952.7,1070.0 956.7,1070.0 960.7,1070.0 964.8,1070.0 969.0,1070.0 973.3,1070.0 977.6,1070.0 981.9,1070.1 986.4,1070.1 990.9,1070.1 995.4,1070.2 1000.0,1070.2 1003.7,1070.2 1007.4,1070.3 1011.2,1070.3 1015.0,1070.4 1018.9,1070.4 1022.9,1070.5 1026.9,1070.6 1031.0,1070.6 1035.1,1070.7 1039.2,1070.8 1043.4,1070.8 1047.5,1070.9 1051.7,1071.0 1055.9,1071.0 1060.2,1071.1 1064.4,1071.2 1068.6,1071.2 1072.8,1071.3 1077.0,1071.4 1081.2,1071.4 1085.3,1071.5 1089.4,1071.5 1093.5,1071.6 1097.6,1071.7 1101.6,1071.7 1105.7,1071.8 1109.8,1071.8 1113.8,1071.8 1117.9,1071.9 1122.0,1071.9 1126.0,1072.0 1130.1,1072.0 1134.2,1072.1 1138.2,1072.1 1142.3,1072.2 1146.3,1072.2 1150.4,1072.2 1154.5,1072.3 1158.5,1072.3 1162.6,1072.4 1166.7,1072.4 1170.7,1072.4 1174.8,1072.5 1178.9,1072.5 1182.9,1072.6 1187.0,1072.6 1191.0,1072.6 1195.0,1072.7 1199.0,1072.7 1202.9,1072.7 1206.8,1072.8 1210.7,1072.8 1214.6,1072.8 1218.5,1072.8 1222.4,1072.9 1226.3,1072.9 1230.2,1072.9 1234.1,1073.0 1238.0,1073.0 1242.0,1073.0 1246.1,1073.0 1250.1,1073.1 1254.3,1073.1 1258.4,1073.1 1262.7,1073.2 1267.0,1073.2 1271.4,1073.2 1275.9,1073.3 1280.5,1073.3 1284.1,1073.3 1287.8,1073.4 1291.7,1073.4 1295.6,1073.4 1299.6,1073.5 1303.7,1073.5 1307.8,1073.5 1312.0,1073.6 1316.3,1073.6 1320.5,1073.7 1324.9,1073.7 1329.2,1073.7 1333.5,1073.8 1337.9,1073.8 1342.2,1073.9 1346.5,1073.9 1350.8,1073.9 1355.1,1074.0 1359.3,1074.0 1363.5,1074.1 1367.6,1074.1 1371.6,1074.1 1375.5,1074.2 1379.4,1074.2 1383.1,1074.2 1386.7,1074.3 1390.3,1074.3 1393.6,1074.3 1396.9,1074.4 1400.0,1074.4 1405.4,1074.5 1410.2,1074.5 1414.6,1074.5 1418.6,1074.6 1422.2,1074.6 1425.7,1074.6 1428.9,1074.7 1432.0,1074.7 1435.1,1074.7 1438.3,1074.8 1441.5,1074.8 1445.0,1074.8 1448.7,1074.9 1452.7,1074.9 1457.1,1075.0 1462.0,1075.0 1465.2,1075.0 1468.6,1075.1 1472.1,1075.1 1475.7,1075.1 1479.4,1075.2 1483.3,1075.2 1487.2,1075.3 1491.1,1075.3 1495.2,1075.4 1499.3,1075.4 1503.4,1075.5 1507.6,1075.5 1511.8,1075.6 1516.0,1075.6 1520.3,1075.7 1524.5,1075.7 1528.8,1075.7 1533.0,1075.8 1537.2,1075.8 1541.3,1075.9 1545.5,1075.9 1549.5,1075.9 1553.5,1075.9 1557.4,1076.0 1561.3,1076.0 1565.0,1076.0 1569.4,1076.0 1574.0,1076.0 1578.6,1076.0 1583.2,1076.0 1588.0,1076.0 1592.7,1076.0 1597.4,1076.0 1602.1,1075.9 1606.8,1075.9 1611.4,1075.9 1615.9,1075.9 1620.4,1075.8 1624.6,1075.8 1628.8,1075.8 1632.7,1075.7 1636.5,1075.7 1640.1,1075.7 1643.4,1075.7 1646.5,1075.6 1649.3,1075.6 1651.8,1075.6 1654.0,1075.6"/><polyline transform="translate(0,-1.6)" points="178.0,642.8 180.6,642.8 191.1,640.7 201.7,640.2 215.4,640.2 223.9,636.5 230.2,638.6 236.5,636.5 243.9,640.7 250.3,637.5 257.7,639.6 265.1,642.8 273.5,639.6 283.0,635.9 288.3,639.6 292.5,644.9 302.0,642.8 310.5,644.9 320.0,646.0 328.4,647.6 332.7,653.4 341.1,652.8 346.5,658.1 355.5,656.8 360.7,664.5 368.4,666.5 373.6,674.9 381.3,674.9 386.5,683.3 392.9,687.8 400.7,687.1 404.6,699.4 412.3,703.3 422.6,710.4 425.2,721.3 433.0,723.9 438.1,734.3 443.3,742.0 448.5,747.2 453.6,747.8 457.5,760.1 462.7,766.5 469.1,767.0 471.8,778.0 476.8,786.5 479.6,790.4 483.1,795.0 486.9,800.1 490.9,805.5 495.0,811.2 499.4,817.4 503.9,823.7 508.2,830.0 512.4,836.2 516.5,842.5 520.5,848.7 524.6,855.0 528.8,861.4 533.0,867.8 537.1,874.1 541.0,880.0 545.8,887.0 550.3,893.5 554.8,900.0 559.4,906.7 564.1,913.3 568.7,920.0 573.3,926.7 577.8,933.3 582.4,940.0 586.9,946.6 591.4,953.2 596.1,960.0 600.0,965.6 604.1,971.5 608.0,977.1 611.5,982.0 616.6,988.8 621.0,994.3 625.2,999.6 630.0,1005.2 633.3,1008.7 637.0,1012.6 640.9,1016.5 644.7,1020.1 648.4,1023.4 652.0,1026.5 655.6,1029.4 659.3,1032.2 663.0,1034.9 666.6,1037.4 670.3,1039.8 674.0,1042.0 677.7,1044.0 681.4,1045.9 685.0,1047.6 688.7,1049.2 692.4,1050.6 696.1,1051.9 699.7,1053.1 703.4,1054.2 707.1,1055.2 710.9,1056.1 714.5,1057.0 718.0,1057.7 722.2,1058.5 726.0,1059.1 730.0,1059.6 734.0,1060.1 738.1,1060.5 742.8,1061.0 746.9,1061.4 751.3,1061.9 755.9,1062.4 760.4,1062.8 764.8,1063.2 769.2,1063.6 773.6,1063.9 778.0,1064.2 782.3,1064.4 786.7,1064.6 791.0,1064.7 795.6,1064.9 799.4,1065.1 803.4,1065.4 807.5,1065.7 811.5,1066.0 815.4,1066.3 818.7,1066.5 821.5,1066.7 824.5,1066.8 828.3,1067.0 833.8,1067.2 836.7,1067.3 839.9,1067.4 843.5,1067.6 847.3,1067.7 851.2,1067.8 855.4,1068.0 859.6,1068.1 863.9,1068.3 868.2,1068.4 872.4,1068.6 876.5,1068.7 880.5,1068.8 884.3,1068.9 888.0,1069.0 891.6,1069.1 895.1,1069.2 898.7,1069.3 902.3,1069.4 906.0,1069.5 909.8,1069.5 913.8,1069.6 918.0,1069.7 922.5,1069.7 927.3,1069.8 930.7,1069.8 934.1,1069.9 937.7,1069.9 941.3,1069.9 945.0,1069.9 948.8,1069.9 952.7,1070.0 956.7,1070.0 960.7,1070.0 964.8,1070.0 969.0,1070.0 973.3,1070.0 977.6,1070.0 981.9,1070.1 986.4,1070.1 990.9,1070.1 995.4,1070.2 1000.0,1070.2 1003.7,1070.2 1007.4,1070.3 1011.2,1070.3 1015.0,1070.4 1018.9,1070.4 1022.9,1070.5 1026.9,1070.6 1031.0,1070.6 1035.1,1070.7 1039.2,1070.8 1043.4,1070.8 1047.5,1070.9 1051.7,1071.0 1055.9,1071.0 1060.2,1071.1 1064.4,1071.2 1068.6,1071.2 1072.8,1071.3 1077.0,1071.4 1081.2,1071.4 1085.3,1071.5 1089.4,1071.5 1093.5,1071.6 1097.6,1071.7 1101.6,1071.7 1105.7,1071.8 1109.8,1071.8 1113.8,1071.8 1117.9,1071.9 1122.0,1071.9 1126.0,1072.0 1130.1,1072.0 1134.2,1072.1 1138.2,1072.1 1142.3,1072.2 1146.3,1072.2 1150.4,1072.2 1154.5,1072.3 1158.5,1072.3 1162.6,1072.4 1166.7,1072.4 1170.7,1072.4 1174.8,1072.5 1178.9,1072.5 1182.9,1072.6 1187.0,1072.6 1191.0,1072.6 1195.0,1072.7 1199.0,1072.7 1202.9,1072.7 1206.8,1072.8 1210.7,1072.8 1214.6,1072.8 1218.5,1072.8 1222.4,1072.9 1226.3,1072.9 1230.2,1072.9 1234.1,1073.0 1238.0,1073.0 1242.0,1073.0 1246.1,1073.0 1250.1,1073.1 1254.3,1073.1 1258.4,1073.1 1262.7,1073.2 1267.0,1073.2 1271.4,1073.2 1275.9,1073.3 1280.5,1073.3 1284.1,1073.3 1287.8,1073.4 1291.7,1073.4 1295.6,1073.4 1299.6,1073.5 1303.7,1073.5 1307.8,1073.5 1312.0,1073.6 1316.3,1073.6 1320.5,1073.7 1324.9,1073.7 1329.2,1073.7 1333.5,1073.8 1337.9,1073.8 1342.2,1073.9 1346.5,1073.9 1350.8,1073.9 1355.1,1074.0 1359.3,1074.0 1363.5,1074.1 1367.6,1074.1 1371.6,1074.1 1375.5,1074.2 1379.4,1074.2 1383.1,1074.2 1386.7,1074.3 1390.3,1074.3 1393.6,1074.3 1396.9,1074.4 1400.0,1074.4 1405.4,1074.5 1410.2,1074.5 1414.6,1074.5 1418.6,1074.6 1422.2,1074.6 1425.7,1074.6 1428.9,1074.7 1432.0,1074.7 1435.1,1074.7 1438.3,1074.8 1441.5,1074.8 1445.0,1074.8 1448.7,1074.9 1452.7,1074.9 1457.1,1075.0 1462.0,1075.0 1465.2,1075.0 1468.6,1075.1 1472.1,1075.1 1475.7,1075.1 1479.4,1075.2 1483.3,1075.2 1487.2,1075.3 1491.1,1075.3 1495.2,1075.4 1499.3,1075.4 1503.4,1075.5 1507.6,1075.5 1511.8,1075.6 1516.0,1075.6 1520.3,1075.7 1524.5,1075.7 1528.8,1075.7 1533.0,1075.8 1537.2,1075.8 1541.3,1075.9 1545.5,1075.9 1549.5,1075.9 1553.5,1075.9 1557.4,1076.0 1561.3,1076.0 1565.0,1076.0 1569.4,1076.0 1574.0,1076.0 1578.6,1076.0 1583.2,1076.0 1588.0,1076.0 1592.7,1076.0 1597.4,1076.0 1602.1,1075.9 1606.8,1075.9 1611.4,1075.9 1615.9,1075.9 1620.4,1075.8 1624.6,1075.8 1628.8,1075.8 1632.7,1075.7 1636.5,1075.7 1640.1,1075.7 1643.4,1075.7 1646.5,1075.6 1649.3,1075.6 1651.8,1075.6 1654.0,1075.6"/><polyline transform="translate(0,1.6)" points="178.0,642.8 180.6,642.8 191.1,640.7 201.7,640.2 215.4,640.2 223.9,636.5 230.2,638.6 236.5,636.5 243.9,640.7 250.3,637.5 257.7,639.6 265.1,642.8 273.5,639.6 283.0,635.9 288.3,639.6 292.5,644.9 302.0,642.8 310.5,644.9 320.0,646.0 328.4,647.6 332.7,653.4 341.1,652.8 346.5,658.1 355.5,656.8 360.7,664.5 368.4,666.5 373.6,674.9 381.3,674.9 386.5,683.3 392.9,687.8 400.7,687.1 404.6,699.4 412.3,703.3 422.6,710.4 425.2,721.3 433.0,723.9 438.1,734.3 443.3,742.0 448.5,747.2 453.6,747.8 457.5,760.1 462.7,766.5 469.1,767.0 471.8,778.0 476.8,786.5 479.6,790.4 483.1,795.0 486.9,800.1 490.9,805.5 495.0,811.2 499.4,817.4 503.9,823.7 508.2,830.0 512.4,836.2 516.5,842.5 520.5,848.7 524.6,855.0 528.8,861.4 533.0,867.8 537.1,874.1 541.0,880.0 545.8,887.0 550.3,893.5 554.8,900.0 559.4,906.7 564.1,913.3 568.7,920.0 573.3,926.7 577.8,933.3 582.4,940.0 586.9,946.6 591.4,953.2 596.1,960.0 600.0,965.6 604.1,971.5 608.0,977.1 611.5,982.0 616.6,988.8 621.0,994.3 625.2,999.6 630.0,1005.2 633.3,1008.7 637.0,1012.6 640.9,1016.5 644.7,1020.1 648.4,1023.4 652.0,1026.5 655.6,1029.4 659.3,1032.2 663.0,1034.9 666.6,1037.4 670.3,1039.8 674.0,1042.0 677.7,1044.0 681.4,1045.9 685.0,1047.6 688.7,1049.2 692.4,1050.6 696.1,1051.9 699.7,1053.1 703.4,1054.2 707.1,1055.2 710.9,1056.1 714.5,1057.0 718.0,1057.7 722.2,1058.5 726.0,1059.1 730.0,1059.6 734.0,1060.1 738.1,1060.5 742.8,1061.0 746.9,1061.4 751.3,1061.9 755.9,1062.4 760.4,1062.8 764.8,1063.2 769.2,1063.6 773.6,1063.9 778.0,1064.2 782.3,1064.4 786.7,1064.6 791.0,1064.7 795.6,1064.9 799.4,1065.1 803.4,1065.4 807.5,1065.7 811.5,1066.0 815.4,1066.3 818.7,1066.5 821.5,1066.7 824.5,1066.8 828.3,1067.0 833.8,1067.2 836.7,1067.3 839.9,1067.4 843.5,1067.6 847.3,1067.7 851.2,1067.8 855.4,1068.0 859.6,1068.1 863.9,1068.3 868.2,1068.4 872.4,1068.6 876.5,1068.7 880.5,1068.8 884.3,1068.9 888.0,1069.0 891.6,1069.1 895.1,1069.2 898.7,1069.3 902.3,1069.4 906.0,1069.5 909.8,1069.5 913.8,1069.6 918.0,1069.7 922.5,1069.7 927.3,1069.8 930.7,1069.8 934.1,1069.9 937.7,1069.9 941.3,1069.9 945.0,1069.9 948.8,1069.9 952.7,1070.0 956.7,1070.0 960.7,1070.0 964.8,1070.0 969.0,1070.0 973.3,1070.0 977.6,1070.0 981.9,1070.1 986.4,1070.1 990.9,1070.1 995.4,1070.2 1000.0,1070.2 1003.7,1070.2 1007.4,1070.3 1011.2,1070.3 1015.0,1070.4 1018.9,1070.4 1022.9,1070.5 1026.9,1070.6 1031.0,1070.6 1035.1,1070.7 1039.2,1070.8 1043.4,1070.8 1047.5,1070.9 1051.7,1071.0 1055.9,1071.0 1060.2,1071.1 1064.4,1071.2 1068.6,1071.2 1072.8,1071.3 1077.0,1071.4 1081.2,1071.4 1085.3,1071.5 1089.4,1071.5 1093.5,1071.6 1097.6,1071.7 1101.6,1071.7 1105.7,1071.8 1109.8,1071.8 1113.8,1071.8 1117.9,1071.9 1122.0,1071.9 1126.0,1072.0 1130.1,1072.0 1134.2,1072.1 1138.2,1072.1 1142.3,1072.2 1146.3,1072.2 1150.4,1072.2 1154.5,1072.3 1158.5,1072.3 1162.6,1072.4 1166.7,1072.4 1170.7,1072.4 1174.8,1072.5 1178.9,1072.5 1182.9,1072.6 1187.0,1072.6 1191.0,1072.6 1195.0,1072.7 1199.0,1072.7 1202.9,1072.7 1206.8,1072.8 1210.7,1072.8 1214.6,1072.8 1218.5,1072.8 1222.4,1072.9 1226.3,1072.9 1230.2,1072.9 1234.1,1073.0 1238.0,1073.0 1242.0,1073.0 1246.1,1073.0 1250.1,1073.1 1254.3,1073.1 1258.4,1073.1 1262.7,1073.2 1267.0,1073.2 1271.4,1073.2 1275.9,1073.3 1280.5,1073.3 1284.1,1073.3 1287.8,1073.4 1291.7,1073.4 1295.6,1073.4 1299.6,1073.5 1303.7,1073.5 1307.8,1073.5 1312.0,1073.6 1316.3,1073.6 1320.5,1073.7 1324.9,1073.7 1329.2,1073.7 1333.5,1073.8 1337.9,1073.8 1342.2,1073.9 1346.5,1073.9 1350.8,1073.9 1355.1,1074.0 1359.3,1074.0 1363.5,1074.1 1367.6,1074.1 1371.6,1074.1 1375.5,1074.2 1379.4,1074.2 1383.1,1074.2 1386.7,1074.3 1390.3,1074.3 1393.6,1074.3 1396.9,1074.4 1400.0,1074.4 1405.4,1074.5 1410.2,1074.5 1414.6,1074.5 1418.6,1074.6 1422.2,1074.6 1425.7,1074.6 1428.9,1074.7 1432.0,1074.7 1435.1,1074.7 1438.3,1074.8 1441.5,1074.8 1445.0,1074.8 1448.7,1074.9 1452.7,1074.9 1457.1,1075.0 1462.0,1075.0 1465.2,1075.0 1468.6,1075.1 1472.1,1075.1 1475.7,1075.1 1479.4,1075.2 1483.3,1075.2 1487.2,1075.3 1491.1,1075.3 1495.2,1075.4 1499.3,1075.4 1503.4,1075.5 1507.6,1075.5 1511.8,1075.6 1516.0,1075.6 1520.3,1075.7 1524.5,1075.7 1528.8,1075.7 1533.0,1075.8 1537.2,1075.8 1541.3,1075.9 1545.5,1075.9 1549.5,1075.9 1553.5,1075.9 1557.4,1076.0 1561.3,1076.0 1565.0,1076.0 1569.4,1076.0 1574.0,1076.0 1578.6,1076.0 1583.2,1076.0 1588.0,1076.0 1592.7,1076.0 1597.4,1076.0 1602.1,1075.9 1606.8,1075.9 1611.4,1075.9 1615.9,1075.9 1620.4,1075.8 1624.6,1075.8 1628.8,1075.8 1632.7,1075.7 1636.5,1075.7 1640.1,1075.7 1643.4,1075.7 1646.5,1075.6 1649.3,1075.6 1651.8,1075.6 1654.0,1075.6"/>
<polyline stroke-width="9.6" points="178.0,642.8 180.6,642.8 191.1,640.7 201.7,640.2 215.4,640.2 223.9,636.5 230.2,638.6 236.5,636.5 243.9,640.7 250.3,637.5 257.7,639.6 265.1,642.8 273.5,639.6 283.0,635.9 288.3,639.6 292.5,644.9 302.0,642.8 310.5,644.9 320.0,646.0 328.4,647.6 332.7,653.4"/></g>
</g>
<g>
<text x="314.7" y="1207" text-anchor="middle" font-size="67">300</text>
<text x="582.0" y="1207" text-anchor="middle" font-size="67">400</text>
<text x="849.4" y="1207" text-anchor="middle" font-size="67">500</text>
<text x="1116.8" y="1207" text-anchor="middle" font-size="67">600</text>
<text x="1384.1" y="1207" text-anchor="middle" font-size="67">700</text>
<text x="1651.5" y="1207" text-anchor="middle" font-size="67">800</text>
</g>
<text x="893.5" y="1335" text-anchor="middle" font-size="86">Wavelength (nm)</text>
<text transform="translate(79.5,538.5) rotate(-90)" text-anchor="middle" font-size="86">Absorbance (a.u.)</text>
<g stroke-width="8.4" stroke-linecap="butt">
<line x1="975.5" y1="60.5" x2="1100.5" y2="60.5" stroke="#0000ff"/>
<line x1="975.5" y1="141.5" x2="1100.5" y2="141.5" stroke="#000"/>
<line x1="975.5" y1="233.5" x2="1100.5" y2="233.5" stroke="#ff0000"/>
</g>
<g font-size="65">
<text x="1125.5" y="81.5">CuS</text>
<text x="1126" y="161.5">Bi<tspan font-size="43" dy="15.5">2</tspan><tspan dy="-15.5">WO</tspan><tspan font-size="43" dy="15.5">6</tspan></text>
<text x="1126" y="255">0.1% CuS/Bi<tspan font-size="43" dy="15.5">2</tspan><tspan dy="-15.5">WO</tspan><tspan font-size="43" dy="15.5">6</tspan></text>
</g>
</g>
</svg>
</body>
</html>
